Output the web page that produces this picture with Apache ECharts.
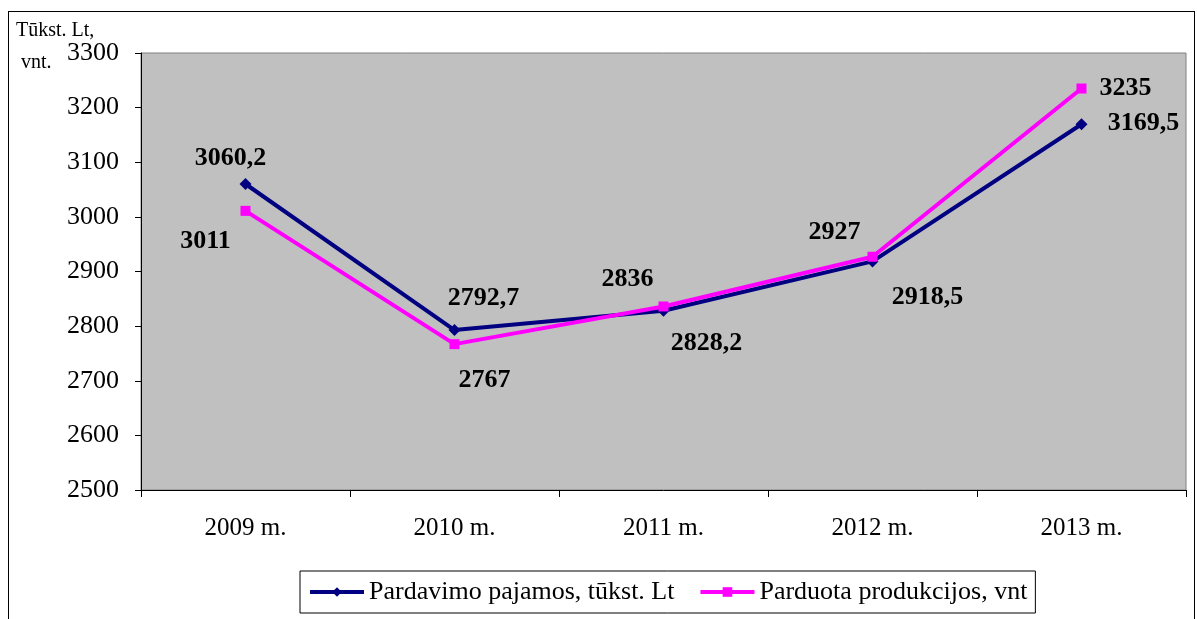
<!DOCTYPE html>
<html>
<head>
<meta charset="utf-8">
<script src="https://cdn.jsdelivr.net/npm/echarts@6/dist/echarts.min.js"></script>
<style>
  html, body { margin: 0; padding: 0; background: #fff; }
  #wrap { position: relative; width: 1197px; height: 619px; overflow: hidden; }
  #frame { position: absolute; left: 8px; top: 11px; width: 1187px; height: 640px; border: 1px solid #000; box-sizing: border-box; }
  #main { position: absolute; left: 0; top: 0; width: 1197px; height: 619px; }
</style>
</head>
<body>
<div id="wrap">
  <div id="frame"></div>
  <div id="main"></div>
</div>
<script>
// metai ir reikšmės
var years = ['2009 m.', '2010 m.', '2011 m.', '2012 m.', '2013 m.'];
var pajamos = [3060.2, 2792.7, 2828.2, 2918.5, 3169.5];   // tūkst. Lt
var produkcija = [3011, 2767, 2836, 2927, 3235];          // vnt

// etikečių poslinkiai nuo taško (px)
var pajamosOffsets = [[-15, -26], [29, -32], [43, 33], [55, 36], [62, -1]];
var produkcijaOffsets = [[-40, 30], [30, 36], [-36, -27], [-38, -24], [44, 0]];

var serif = '"Liberation Serif", "DejaVu Serif", serif';

function fmt(v) {
    return String(v).replace('.', ',');
}

function withLabels(values, offsets) {
    return values.map(function (v, i) {
        return { value: v, label: { offset: offsets[i] } };
    });
}

var myChart = echarts.init(document.getElementById('main'));

myChart.setOption({
    backgroundColor: 'transparent',
    animation: false,
    title: {
        text: 'Tūkst. Lt,\n vnt.',
        left: 11,
        top: 10,
        textStyle: {
            fontFamily: serif,
            fontSize: 20,
            fontWeight: 'normal',
            color: '#000',
            lineHeight: 32
        }
    },
    legend: {
        left: 300,
        top: 571,
        padding: [8, 8, 8, 8],
        borderColor: '#000',
        borderWidth: 1,
        itemWidth: 54,
        itemHeight: 12,
        itemGap: 24,
        lineStyle: { width: 4 },
        textStyle: { fontFamily: serif, fontSize: 26, color: '#000' },
        data: ['Pardavimo pajamos, tūkst. Lt', 'Parduota produkcijos, vnt']
    },
    grid: {
        left: 141,
        top: 53,
        right: 11,
        bottom: 129,
        show: true,
        backgroundColor: '#C0C0C0',
        borderColor: '#808080',
        borderWidth: 1
    },
    xAxis: {
        type: 'category',
        data: years,
        boundaryGap: true,
        axisLine: { lineStyle: { color: '#000', width: 1 } },
        axisTick: { show: true, length: 7, lineStyle: { color: '#000' } },
        axisLabel: { fontFamily: serif, fontSize: 25, color: '#000', margin: 26 }
    },
    yAxis: {
        type: 'value',
        min: 2500,
        max: 3300,
        interval: 100,
        axisLine: { show: true, lineStyle: { color: '#000', width: 1 } },
        axisTick: { show: true, length: 6, lineStyle: { color: '#000' } },
        splitLine: { show: false },
        axisLabel: {
            fontFamily: serif, fontSize: 26, color: '#000', margin: 22,
            formatter: function (v) { return String(v); }
        }
    },
    series: [
        {
            name: 'Pardavimo pajamos, tūkst. Lt',
            type: 'line',
            data: withLabels(pajamos, pajamosOffsets),
            color: '#000080',
            symbol: 'diamond',
            symbolSize: 12,
            lineStyle: { width: 4, color: '#000080' },
            itemStyle: { color: '#000080' },
            label: {
                show: true,
                position: 'inside',
                fontFamily: serif,
                fontSize: 26,
                fontWeight: 'bold',
                color: '#000',
                formatter: function (p) { return fmt(p.value); }
            }
        },
        {
            name: 'Parduota produkcijos, vnt',
            type: 'line',
            data: withLabels(produkcija, produkcijaOffsets),
            color: '#FF00FF',
            symbol: 'rect',
            symbolSize: 10,
            lineStyle: { width: 4, color: '#FF00FF' },
            itemStyle: { color: '#FF00FF' },
            label: {
                show: true,
                position: 'inside',
                fontFamily: serif,
                fontSize: 26,
                fontWeight: 'bold',
                color: '#000',
                formatter: function (p) { return fmt(p.value); }
            }
        }
    ]
});
</script>
</body>
</html>
